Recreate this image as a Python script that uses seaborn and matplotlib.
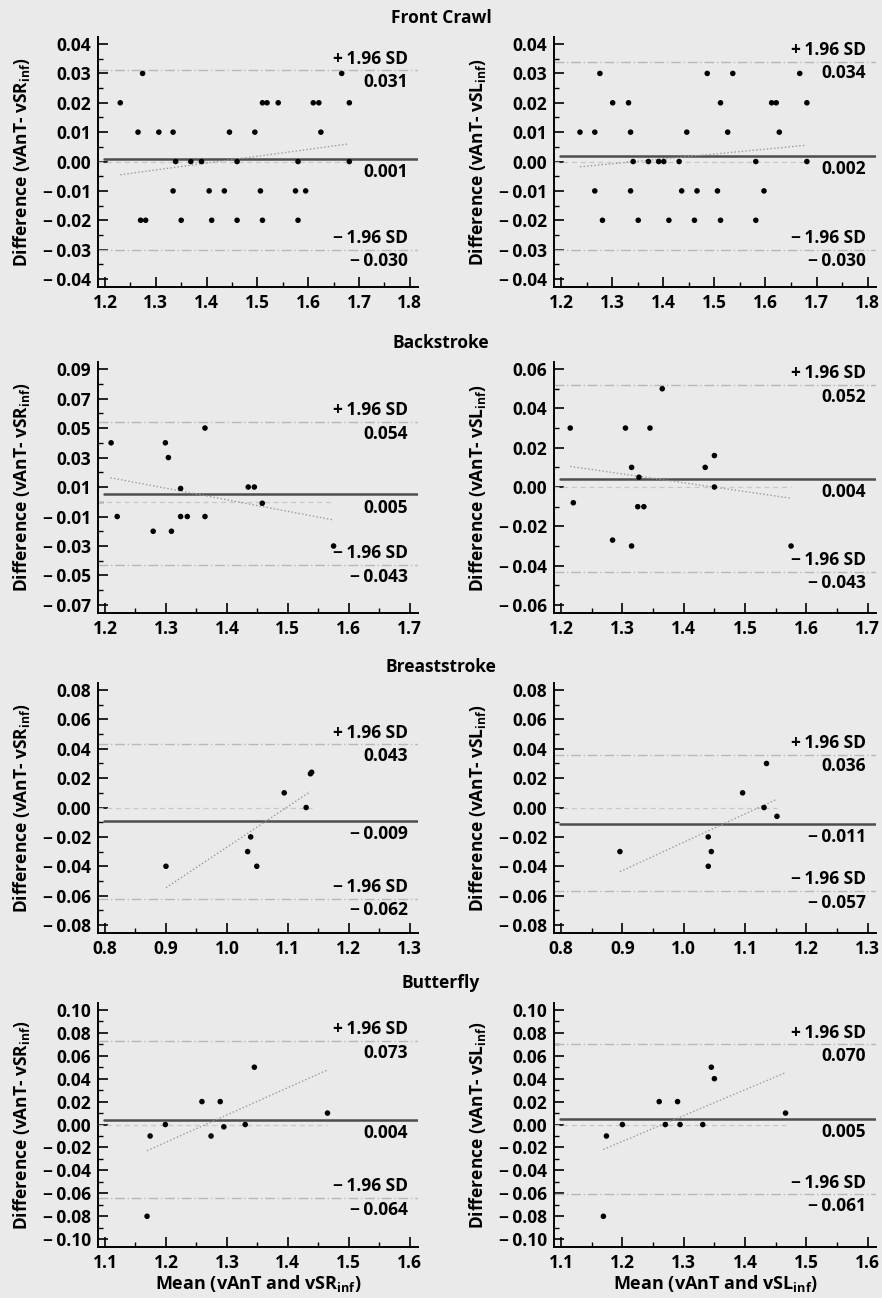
import matplotlib.pyplot as plt
import matplotlib.ticker as mticker
import numpy as np
import seaborn as sns

# ---- Front crawl ----
fc_sr_x = [1.274, 1.666, 1.230, 1.510, 1.519, 1.541, 1.610, 1.621, 1.681,
           1.265, 1.306, 1.334, 1.445, 1.495, 1.625,
           1.339, 1.369, 1.390, 1.460, 1.580, 1.681,
           1.334, 1.405, 1.435, 1.506, 1.575, 1.595,
           1.270, 1.280, 1.350, 1.410, 1.460, 1.510, 1.580]
fc_sr_y = [0.03, 0.03, 0.02, 0.02, 0.02, 0.02, 0.02, 0.02, 0.02,
           0.01, 0.01, 0.01, 0.01, 0.01, 0.01,
           0.0, 0.0, 0.0, 0.0, 0.0, 0.0,
           -0.01, -0.01, -0.01, -0.01, -0.01, -0.01,
           -0.02, -0.02, -0.02, -0.02, -0.02, -0.02, -0.02]
fc_sr_stats = [0.001, 0.031, -0.030]
fc_sr_fit_x = [1.23, 1.68]
fc_sr_fit_y = [-0.0045, 0.006]

fc_sl_x = [1.276, 1.486, 1.536, 1.667,
           1.301, 1.332, 1.512, 1.612, 1.621, 1.681,
           1.237, 1.266, 1.336, 1.446, 1.526, 1.627,
           1.341, 1.371, 1.391, 1.401, 1.431, 1.581, 1.681,
           1.266, 1.336, 1.436, 1.466, 1.506, 1.597,
           1.281, 1.351, 1.411, 1.461, 1.512, 1.581]
fc_sl_y = [0.03, 0.03, 0.03, 0.03,
           0.02, 0.02, 0.02, 0.02, 0.02, 0.02,
           0.01, 0.01, 0.01, 0.01, 0.01, 0.01,
           0.0, 0.0, 0.0, 0.0, 0.0, 0.0, 0.0,
           -0.01, -0.01, -0.01, -0.01, -0.01, -0.01,
           -0.02, -0.02, -0.02, -0.02, -0.02, -0.02]
fc_sl_stats = [0.002, 0.034, -0.030]
fc_sl_fit_x = [1.237, 1.677]
fc_sl_fit_y = [-0.0018, 0.0055]

fc_xticks = [1.2, 1.3, 1.4, 1.5, 1.6, 1.7, 1.8]
fc_yticks = [-0.04, -0.03, -0.02, -0.01, 0.0, 0.01, 0.02, 0.03, 0.04]

# ---- Backstroke ----
bs_sr_x = [1.210, 1.220, 1.279, 1.299, 1.304, 1.309, 1.324, 1.324,
           1.335, 1.364, 1.364, 1.435, 1.445, 1.458, 1.575]
bs_sr_y = [0.040, -0.010, -0.020, 0.040, 0.030, -0.020, 0.009, -0.010,
           -0.010, 0.050, -0.010, 0.010, 0.010, -0.001, -0.030]
bs_sr_stats = [0.005, 0.054, -0.043]
bs_sr_fit_x = [1.209, 1.573]
bs_sr_fit_y = [0.0163, -0.0122]

bs_sl_x = [1.215, 1.220, 1.284, 1.305, 1.315, 1.315, 1.327, 1.325,
           1.335, 1.345, 1.365, 1.435, 1.450, 1.450, 1.575]
bs_sl_y = [0.030, -0.008, -0.027, 0.030, 0.010, -0.030, 0.005, -0.010,
           -0.010, 0.030, 0.050, 0.010, 0.016, 0.000, -0.030]
bs_sl_stats = [0.004, 0.052, -0.043]
bs_sl_fit_x = [1.215, 1.573]
bs_sl_fit_y = [0.0105, -0.0056]

bs_xticks = [1.2, 1.3, 1.4, 1.5, 1.6, 1.7]
bs_sr_yticks = [-0.07, -0.05, -0.03, -0.01, 0.01, 0.03, 0.05, 0.07, 0.09]
bs_sl_yticks = [-0.06, -0.04, -0.02, 0.0, 0.02, 0.04, 0.06]

# ---- Breaststroke ----
br_sr_x = [0.900, 1.034, 1.039, 1.049, 1.094, 1.130, 1.137, 1.139]
br_sr_y = [-0.040, -0.030, -0.020, -0.040, 0.010, 0.000, 0.023, 0.024]
br_sr_stats = [-0.009, 0.043, -0.062]
br_sr_fit_x = [0.900, 1.137]
br_sr_fit_y = [-0.0546, 0.0109]

br_sl_x = [0.896, 1.040, 1.040, 1.045, 1.096, 1.131, 1.135, 1.152]
br_sl_y = [-0.030, -0.020, -0.040, -0.030, 0.010, 0.000, 0.030, -0.006]
br_sl_stats = [-0.011, 0.036, -0.057]
br_sl_fit_x = [0.896, 1.151]
br_sl_fit_y = [-0.0437, 0.0055]

br_xticks = [0.8, 0.9, 1.0, 1.1, 1.2, 1.3]
br_yticks = [-0.08, -0.06, -0.04, -0.02, 0.0, 0.02, 0.04, 0.06, 0.08]

# ---- Butterfly ----
bf_sr_x = [1.169, 1.174, 1.199, 1.259, 1.274, 1.289, 1.295, 1.330, 1.345, 1.465]
bf_sr_y = [-0.080, -0.010, 0.000, 0.020, -0.010, 0.020, -0.002, 0.000, 0.050, 0.010]
bf_sr_stats = [0.004, 0.073, -0.064]
bf_sr_fit_x = [1.169, 1.464]
bf_sr_fit_y = [-0.0228, 0.0474]

bf_sl_x = [1.169, 1.174, 1.200, 1.260, 1.270, 1.290, 1.294, 1.331, 1.345, 1.350, 1.466]
bf_sl_y = [-0.080, -0.010, 0.000, 0.020, 0.000, 0.020, 0.000, 0.000, 0.050, 0.040, 0.010]
bf_sl_stats = [0.005, 0.070, -0.061]
bf_sl_fit_x = [1.169, 1.465]
bf_sl_fit_y = [-0.0217, 0.045]

bf_xticks = [1.1, 1.2, 1.3, 1.4, 1.5, 1.6]
bf_yticks = [-0.10, -0.08, -0.06, -0.04, -0.02, 0.0, 0.02, 0.04, 0.06, 0.08, 0.10]

strokes = ["Front Crawl", "Backstroke", "Breaststroke", "Butterfly"]
speeds = ["vSR", "vSL"]

bg = "#eaeaeb"
sns.set_theme(style="white")
plt.rcParams['font.family'] = ['Open Sans', 'DejaVu Sans']
plt.rcParams['font.weight'] = 'bold'
plt.rcParams['axes.labelweight'] = 'bold'
plt.rcParams['text.color'] = 'black'
plt.rcParams['axes.labelcolor'] = 'black'

W, H = 882, 1298
fig = plt.figure(figsize=(W / 100, H / 100), dpi=100, facecolor=bg)

rows_px = [(37, 287), (362, 613), (683, 933), (1003, 1247)]
cols_px = [(98, 320), (554, 322)]
title_y = [18, 343, 667, 983]
fs = 12.5


def yfmt(v, _):
    s = f"{abs(v):.2f}"
    return "\u2212\u2009" + s if v < -1e-9 else s


def vfmt(v):
    s = f"{abs(v):.3f}"
    return "\u2212\u2009" + s if v < 0 else s


panels = [
    (0, 0, fc_sr_x, fc_sr_y, fc_sr_stats, fc_sr_fit_x, fc_sr_fit_y, fc_xticks, fc_yticks, 0.005),
    (0, 1, fc_sl_x, fc_sl_y, fc_sl_stats, fc_sl_fit_x, fc_sl_fit_y, fc_xticks, fc_yticks, 0.005),
    (1, 0, bs_sr_x, bs_sr_y, bs_sr_stats, bs_sr_fit_x, bs_sr_fit_y, bs_xticks, bs_sr_yticks, 0.01),
    (1, 1, bs_sl_x, bs_sl_y, bs_sl_stats, bs_sl_fit_x, bs_sl_fit_y, bs_xticks, bs_sl_yticks, 0.01),
    (2, 0, br_sr_x, br_sr_y, br_sr_stats, br_sr_fit_x, br_sr_fit_y, br_xticks, br_yticks, 0.01),
    (2, 1, br_sl_x, br_sl_y, br_sl_stats, br_sl_fit_x, br_sl_fit_y, br_xticks, br_yticks, 0.01),
    (3, 0, bf_sr_x, bf_sr_y, bf_sr_stats, bf_sr_fit_x, bf_sr_fit_y, bf_xticks, bf_yticks, 0.01),
    (3, 1, bf_sl_x, bf_sl_y, bf_sl_stats, bf_sl_fit_x, bf_sl_fit_y, bf_xticks, bf_yticks, 0.01),
]

for r, c, x, y, st, fx, fy, xt, yt, ymin_step in panels:
    top, bot = rows_px[r]
    left, width = cols_px[c]
    ax = fig.add_axes([left / W, 1 - bot / H, width / W, (bot - top) / H])
    ax.set_facecolor(bg)

    xr = xt[-1] - xt[0]
    yr = yt[-1] - yt[0]
    ax.set_xlim(xt[0] - 0.023 * xr, xt[-1] + 0.027 * xr)
    ax.set_ylim(yt[0] - 0.034 * yr, yt[-1] + 0.03 * yr)

    mean, up, lo = st
    ax.hlines(0, ax.get_xlim()[0], max(x), color="#c8c8c8", lw=0.9,
              linestyles=(0, (4, 3)), zorder=1)
    for v in (up, lo):
        ax.axhline(v, color="#b8b8b8", lw=1.0, ls=(0, (7, 2, 1, 2)), zorder=1)
    ax.axhline(mean, xmin=0.02, color="#4d4d4d", lw=1.8, zorder=2)
    sns.lineplot(x=fx, y=fy, ax=ax, color="#9a9a9a", lw=1.0,
                 linestyle=(0, (1, 1.6)), zorder=2)
    sns.scatterplot(x=x, y=y, ax=ax, color="black", s=16, edgecolor="none", zorder=3)

    xr_frac = 1 - 10 / width
    tr = ax.get_yaxis_transform()
    ax.annotate("+\u20091.96 SD", xy=(xr_frac, up), xycoords=tr, xytext=(0, 2),
                textcoords="offset points", ha="right", va="bottom", fontsize=fs)
    ax.annotate(vfmt(up), xy=(xr_frac, up), xycoords=tr, xytext=(0, -2),
                textcoords="offset points", ha="right", va="top", fontsize=fs)
    ax.annotate("\u2212\u20091.96 SD", xy=(xr_frac, lo), xycoords=tr, xytext=(0, 2),
                textcoords="offset points", ha="right", va="bottom", fontsize=fs)
    ax.annotate(vfmt(lo), xy=(xr_frac, lo), xycoords=tr, xytext=(0, -2),
                textcoords="offset points", ha="right", va="top", fontsize=fs)
    ax.annotate(vfmt(mean), xy=(xr_frac, mean), xycoords=tr, xytext=(0, -3),
                textcoords="offset points", ha="right", va="top", fontsize=fs)

    ax.set_xticks(xt)
    ax.set_yticks(yt)
    ax.xaxis.set_minor_locator(mticker.MultipleLocator(0.05))
    ax.yaxis.set_minor_locator(mticker.MultipleLocator(ymin_step))
    ax.xaxis.set_major_formatter(mticker.FormatStrFormatter("%.1f"))
    ax.yaxis.set_major_formatter(mticker.FuncFormatter(yfmt))
    ax.tick_params(which="major", direction="in", length=7, width=1.2,
                   color="black", labelsize=fs, labelcolor="black", pad=5)
    ax.tick_params(which="minor", direction="in", length=3.5, width=1.0, color="black")
    ax.tick_params(axis="y", which="both", left=True)
    ax.tick_params(axis="x", which="both", bottom=True)
    for lab in ax.get_xticklabels() + ax.get_yticklabels():
        lab.set_fontweight("bold")

    sns.despine(ax=ax)
    for s in ("left", "bottom"):
        ax.spines[s].set_color("black")
        ax.spines[s].set_linewidth(1.4)

    ax.set_ylabel(f"Difference (vAnT- {speeds[c]}$_\\mathregular{{inf}}$)",
                  fontsize=12.5, fontweight="bold")
    ax.yaxis.set_label_coords(-66 / width, 0.5)
    if r == 3:
        ax.set_xlabel(f"Mean (vAnT and {speeds[c]}$_\\mathregular{{inf}}$)",
                      fontsize=13, fontweight="bold", labelpad=1)
    else:
        ax.set_xlabel("")

for t, ty in zip(strokes, title_y):
    fig.text(0.5, 1 - ty / H, t, ha="center", va="center", fontsize=fs,
             fontweight="bold")

fig.savefig("out.png", dpi=100, facecolor=bg)
